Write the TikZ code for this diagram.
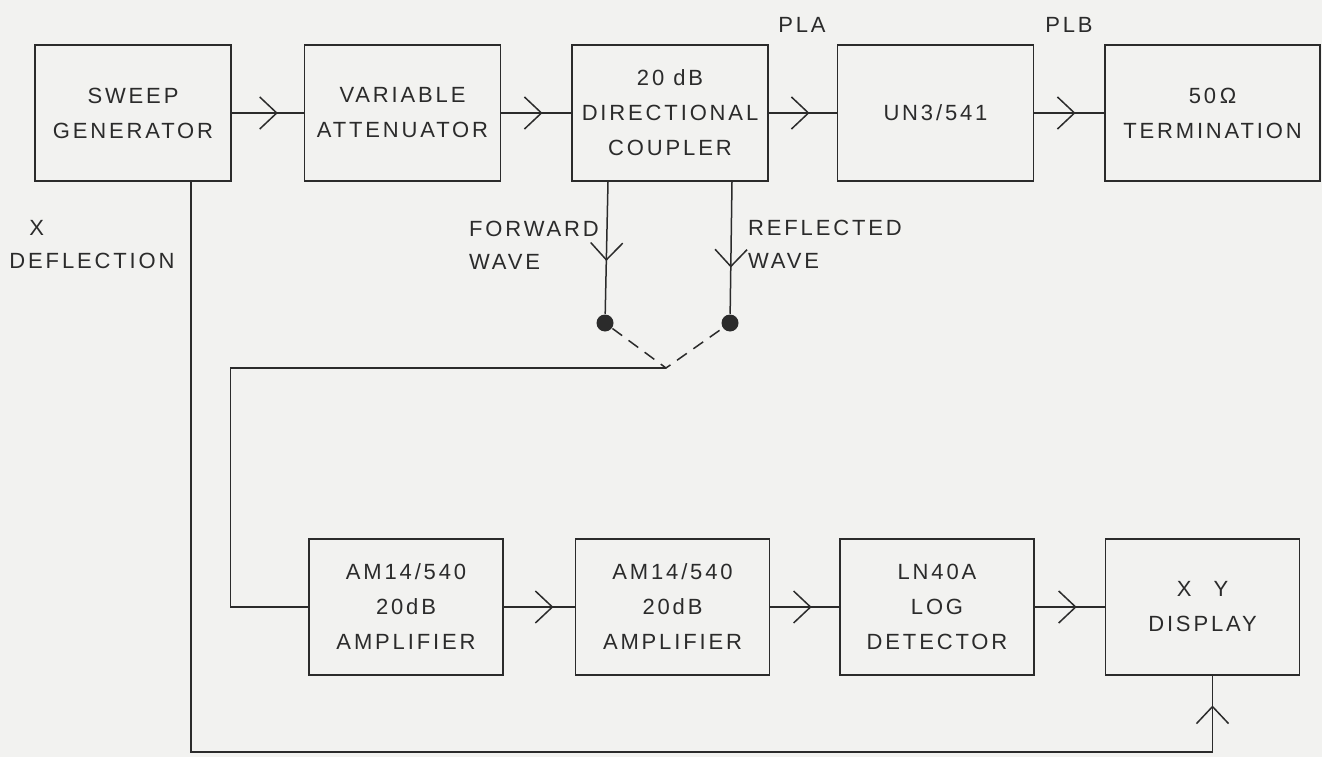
\documentclass[tikz,border=0pt]{standalone}
\usepackage{fontspec}
\setmainfont{Liberation Sans}[LetterSpace=13]
\usepackage{tikz}
\usetikzlibrary{positioning,arrows.meta,decorations.markings}
\definecolor{ink}{HTML}{2B2B2B}
\definecolor{paper}{HTML}{F2F2F0}

\begin{document}
\begin{tikzpicture}[
        x=1pt, y=-1pt,
        node distance=70pt,
        line width=1.5pt, color=ink,
        box/.style={draw, rectangle, minimum width=196pt, minimum height=136pt, align=center, font=\fontsize{22}{35}\selectfont},
        lbl/.style={align=left, inner sep=0pt, font=\fontsize{22}{33}\selectfont},
        dot/.style={circle, fill, minimum size=17pt, inner sep=0pt},
        flow/.style={postaction={decorate}, decoration={markings, mark=at position #1 with {\arrow{Straight Barb[length=17pt,width=32pt]}}}},
        flow/.default=0.62
    ]
    \fill[paper] (0,0) rectangle (1322,757);
    \useasboundingbox (0,0) rectangle (1322,757);

    \node[box] (sweep) at (133,113) {SWEEP\\GENERATOR};
    \node[box, right=72pt of sweep] (att) {VARIABLE\\ATTENUATOR};
    \node[box, right=of att] (dc) {20 dB\\DIRECTIONAL\\COUPLER};
    \node[box, right=68pt of dc] (un) {UN3/541};
    \node[box, right=of un, minimum width=215pt] (term) {50\,Ω\\TERMINATION};

    \node[box, minimum width=194pt] (amp1) at (406,607) {AM14/540\\20dB\\AMPLIFIER};
    \node[box, minimum width=194pt, right=71pt of amp1] (amp2) {AM14/540\\20dB\\AMPLIFIER};
    \node[box, minimum width=194pt, right=69pt of amp2] (det) {LN40A\\LOG\\DETECTOR};
    \node[box, minimum width=194pt, right=of det] (xy) {X\quad Y\\DISPLAY};

    \node[lbl] (pla) at (802,25) {PLA};
    \node[lbl] (plb) at (1069,25) {PLB};
    \node[lbl] (fwdl) at (534,245) {FORWARD\\WAVE};
    \node[lbl] (refl) at (825,244) {REFLECTED\\WAVE};
    \node[lbl] (xdef) at (92,245) {\hspace*{20pt}X\\DEFLECTION};

    \node[dot] (fwd) at (605,323) {};
    \node[dot] (rfl) at (730,323) {};
    \coordinate (sw) at (666,368);
    \coordinate (xc) at (191,752);
    \coordinate (xyin) at ([xshift=10pt]xy.south);

    \draw[flow=0.64] (sweep) -- (att);
    \draw[flow=0.59] (att) -- (dc);
    \draw[flow=0.6] (dc) -- (un);
    \draw[flow=0.59] (un) -- (term);
    \draw[flow=0.7] (amp1) -- (amp2);
    \draw[flow=0.6] (amp2) -- (det);
    \draw[flow=0.6] (det) -- (xy);

    \draw[flow=0.6] ([xshift=-62pt]dc.south) -- (fwd);
    \draw[flow=0.65] ([xshift=62pt]dc.south) -- (rfl);
    \draw[dash pattern=on 12pt off 8pt] (fwd) -- (sw) -- (rfl);
    \draw (sw) -| ([xshift=-78pt]amp1.west) -- (amp1.west);

    \draw ([xshift=58pt]sweep.south) -- (xc) -- (xc -| xyin);
    \draw[flow=0.61] (xc -| xyin) -- (xyin);
\end{tikzpicture}
\end{document}
